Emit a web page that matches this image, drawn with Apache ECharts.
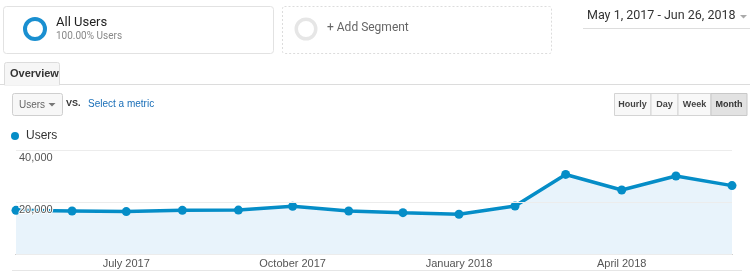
<!DOCTYPE html>
<html>
<head>
<meta charset="utf-8">
<script src="https://cdn.jsdelivr.net/npm/echarts@6/dist/echarts.min.js"></script>
<style>
html,body{margin:0;padding:0;background:#fff;}
#c{width:750px;height:271px;}
</style>
</head>
<body>
<div id="c"></div>
<script>
// ---- data ----
var months = ['2017-05-01','2017-06-01','2017-07-01','2017-08-01','2017-09-01','2017-10-01','2017-11-01',
              '2017-12-01','2018-01-01','2018-02-01','2018-03-01','2018-04-01','2018-05-01','2018-06-01'];
var users = [16800,16550,16300,16800,16900,18350,16550,15900,15300,18450,30600,24600,30000,26300];
var tickDates = ['2017-07-01','2017-10-01','2018-01-01','2018-04-01'];
var tickLabels = ['July 2017','October 2017','January 2018','April 2018'];
var yTicks = [20000, 40000];

function ts(s){
  var p = s.split('-');
  return Date.UTC(+p[0], +p[1]-1, +p[2]);
}
var seriesData = months.map(function(m,i){ return [ts(m), users[i]]; });
var tickTs = tickDates.map(ts);

var chart = echarts.init(document.getElementById('c'), null, {renderer:'canvas'});
var blue = '#058dc7';
var ui = 'Roboto, Arial, sans-serif';
var ar = 'Arial, "Liberation Sans", sans-serif';

var graphic = [
  // segment box 1
  {type:'rect', shape:{x:3.5,y:6.5,width:270,height:47,r:3}, style:{fill:'#fff',stroke:'#e2e2e2',lineWidth:1}},
  {type:'ring', shape:{cx:35,cy:29,r:12,r0:8}, style:{fill:'#1a8fd0'}},
  {type:'text', x:56, y:23, style:{text:'All Users', font:'13px '+ui, fill:'#222', verticalAlign:'middle'}},
  {type:'text', x:56, y:36, style:{text:'100.00% Users', font:'10px '+ui, fill:'#888', verticalAlign:'middle'}},
  // segment box 2
  {type:'rect', shape:{x:282.5,y:6.5,width:269,height:47,r:2}, style:{fill:'#fff',stroke:'#dcdcdc',lineWidth:1,lineDash:[2,2]}},
  {type:'ring', shape:{cx:306,cy:29,r:11.5,r0:8}, style:{fill:'#e6e6e6'}},
  {type:'text', x:327, y:28, style:{text:'+ Add Segment', font:'12px '+ui, fill:'#666', verticalAlign:'middle'}},
  // date range
  {type:'text', x:587, y:16, style:{text:'May 1, 2017 - Jun 26, 2018', font:'12.5px '+ui, fill:'#333', verticalAlign:'middle'}},
  {type:'polygon', shape:{points:[[740,15],[747,15],[743.5,18.5]]}, style:{fill:'#aaa'}},
  {type:'line', shape:{x1:583,y1:28.5,x2:750,y2:28.5}, style:{stroke:'#ddd',lineWidth:1}},
  // tab
  {type:'line', shape:{x1:0,y1:84.5,x2:750,y2:84.5}, style:{stroke:'#dcdcdc',lineWidth:1}},
  {type:'rect', shape:{x:4.5,y:62.5,width:55,height:22.5,r:[2,2,0,0]}, style:{fill:'#f6f6f6',stroke:'#dcdcdc',lineWidth:1}},
  {type:'rect', shape:{x:5,y:83.5,width:54,height:2}, style:{fill:'#f6f6f6'}},
  {type:'text', x:10, y:73.5, style:{text:'Overview', font:'bold 11px '+ar, fill:'#333', verticalAlign:'middle'}},
  // metric dropdown
  {type:'rect', shape:{x:12.5,y:93.5,width:50,height:22,r:2}, style:{fill:'#f7f7f7',stroke:'#cfcfcf',lineWidth:1}},
  {type:'text', x:19, y:105, style:{text:'Users', font:'10px '+ar, fill:'#666', verticalAlign:'middle'}},
  {type:'polygon', shape:{points:[[48.5,103],[55.5,103],[52,106.5]]}, style:{fill:'#777'}},
  {type:'text', x:66, y:104, style:{text:'VS.', font:'bold 9px '+ar, fill:'#333', verticalAlign:'middle'}},
  {type:'text', x:88, y:104, style:{text:'Select a metric', font:'10px '+ar, fill:'#1a6fb8', verticalAlign:'middle'}},
  // period buttons
  {type:'rect', shape:{x:614.5,y:93.5,width:36.5,height:22}, style:{fill:'#f8f8f8',stroke:'#d4d4d4',lineWidth:1}},
  {type:'rect', shape:{x:651,y:93.5,width:27,height:22}, style:{fill:'#f8f8f8',stroke:'#d4d4d4',lineWidth:1}},
  {type:'rect', shape:{x:678,y:93.5,width:33,height:22}, style:{fill:'#f8f8f8',stroke:'#d4d4d4',lineWidth:1}},
  {type:'rect', shape:{x:711,y:93.5,width:36,height:22}, style:{fill:'#e2e2e2',stroke:'#c8c8c8',lineWidth:1}},
  {type:'text', x:632.5, y:105, style:{text:'Hourly', font:'bold 9px '+ar, fill:'#444', align:'center', verticalAlign:'middle'}},
  {type:'text', x:664.5, y:105, style:{text:'Day', font:'bold 9px '+ar, fill:'#444', align:'center', verticalAlign:'middle'}},
  {type:'text', x:694.5, y:105, style:{text:'Week', font:'bold 9px '+ar, fill:'#444', align:'center', verticalAlign:'middle'}},
  {type:'text', x:729, y:105, style:{text:'Month', font:'bold 9px '+ar, fill:'#333', align:'center', verticalAlign:'middle'}},
  // legend
  {type:'circle', shape:{cx:15,cy:136,r:4}, style:{fill:blue}},
  {type:'text', x:26, y:136, style:{text:'Users', font:'12px '+ar, fill:'#333', verticalAlign:'middle'}},
  // bottom border
  {type:'line', shape:{x1:12,y1:270.5,x2:742,y2:270.5}, style:{stroke:'#e6e6e6',lineWidth:1}}
];

chart.setOption({
  animation:false,
  backgroundColor:'#fff',
  grid:{left:16, right:18, top:150, bottom:17, containLabel:false},
  xAxis:{
    type:'value',
    min: ts(months[0]),
    max: ts(months[months.length-1]),
    axisLine:{show:true, lineStyle:{color:'#888', width:1}},
    axisTick:{show:false},
    splitLine:{show:false},
    axisLabel:{
      customValues: tickTs,
      margin:4,
      fontSize:11,
      fontFamily:ar,
      color:'#555',
      formatter:function(v){
        var i = tickTs.indexOf(+v);
        return i >= 0 ? tickLabels[i] : '';
      }
    }
  },
  yAxis:{
    type:'value',
    min:0, max:40000, interval:20000,
    z:5,
    axisLine:{show:false},
    axisTick:{show:false},
    splitLine:{show:true, lineStyle:{color:'#ececec', width:1}},
    axisLabel:{
      inside:true,
      margin:3,
      align:'left',
      verticalAlign:'top',
      padding:[2,0,0,0],
      fontSize:11,
      fontFamily:ar,
      color:'#555',
      textBorderColor:'#fff',
      textBorderWidth:2,
      formatter:function(v){
        return yTicks.indexOf(v) >= 0 ? echarts.format.addCommas(v) : '';
      }
    }
  },
  series:[{
    type:'line',
    data:seriesData,
    symbol:'circle',
    symbolSize:9,
    showSymbol:true,
    lineStyle:{color:blue, width:3.5},
    itemStyle:{color:blue},
    areaStyle:{color:'#e8f3fb', opacity:1},
    z:2
  }],
  graphic:graphic
});
</script>
</body>
</html>
